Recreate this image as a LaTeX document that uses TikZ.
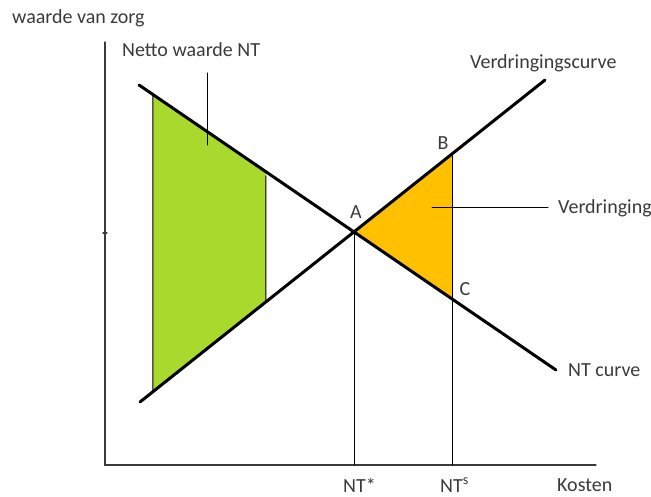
\documentclass[tikz,border=0pt]{standalone}
\usepackage{fontspec}
\setmainfont{Carlito}
\usetikzlibrary{calc}
\usetikzlibrary{positioning}
\definecolor{vzink}{HTML}{3A3A3A}
\definecolor{vzgreen}{HTML}{A9D92C}
\definecolor{vzorange}{HTML}{FFC000}
\tikzset{
  vzaxis/.style={draw=vzink, line width=1.3pt},
  vzcurve/.style={draw=black, line width=3pt},
  vzguide/.style={draw=black, line width=1pt},
  vzlabel/.style={anchor=west, inner sep=0pt, text=vzink,
    font=\fontsize{20}{23}\selectfont},
  vzpoint/.style={inner sep=0pt, text=vzink,
    font=\fontsize{20}{23}\selectfont},
  every picture/.style={line cap=round},
}

\begin{document}
\begin{tikzpicture}[x=1pt, y=-1pt]
\useasboundingbox (0, 0) rectangle (651, 497);

% Axes.
\coordinate (origin) at (105, 465);
\coordinate (ytop) at (105, 42);
\coordinate (xend) at (596, 465);
\coordinate (ytick) at (105, 233);
\draw[vzaxis] (ytop) -- (origin) -- (xend);
\draw[vzaxis] ([xshift=-2pt]ytick) -- ([xshift=2pt]ytick);
\node[vzlabel] (ylabel) at (12, 18) {waarde van zorg};
\node[vzlabel] (xlabel) at (557, 485) {Kosten};

% The two curves.
\coordinate (ntleft) at (139, 85);
\coordinate (ntright) at (556, 370);
\coordinate (vdleft) at (140, 402);
\coordinate (vdright) at (545, 80);
\coordinate (A) at ($(ntleft)!{(355-139)/(556-139)}!(ntright)$);
\coordinate (B) at ($(vdleft)!{(453-140)/(545-140)}!(vdright)$);
\coordinate (C) at ($(ntleft)!{(453-139)/(556-139)}!(ntright)$);

% Netto waarde area.
\coordinate (gtl) at ($(ntleft)!{(153-139)/(556-139)}!(ntright)$);
\coordinate (gtr) at ($(ntleft)!{(266-139)/(556-139)}!(ntright)$);
\coordinate (gbl) at ($(vdleft)!{(153-140)/(545-140)}!(vdright)$);
\coordinate (gbr) at ($(vdleft)!{(266-140)/(545-140)}!(vdright)$);
\fill[vzgreen] (gtl) -- (gtr) -- (gbr) -- (gbl) -- cycle;
\draw[vzguide] (gtl) -- (gbl);
\draw[vzguide] ([yshift=-4pt]gtr) -- (gbr);

% Verdringing area.
\fill[vzorange] (A) -- (B) -- (C) -- cycle;
\draw[vzguide] (A) -- (A |- origin);
\draw[vzguide] (B) -- (B |- origin);

\draw[vzcurve] (ntleft) -- (ntright);
\draw[vzcurve] (vdleft) -- (vdright);

% Labels.
\node[vzlabel] (ntarea) at (122, 50) {Netto waarde NT};
\coordinate (ntlead) at (207, 73);
\coordinate (nttip) at (207, 145);
\draw[vzguide] (ntlead) -- (nttip);

\node[vzlabel] (vdcurve) at (470, 63) {Verdringingscurve};
\node[vzlabel] (ntcurve) at (568, 370) {NT curve};

\node[vzlabel] (vdarea) at (558, 208) {Verdringing};
\coordinate (vdtip) at (432, 208);
\draw[vzguide] (vdtip) -- ([xshift=-10pt]vdarea.west);

\node[vzpoint] (Alabel) at (356, 212) {A};
\node[vzpoint] (Blabel) at (443, 143) {B};
\node[vzpoint] (Clabel) at (465, 289) {C};

\node[vzlabel] (ntstar) at (343, 485) {NT*};
\node[vzlabel] (nts) at (440, 485) {NT\textsuperscript{s}};

\end{tikzpicture}
\end{document}
